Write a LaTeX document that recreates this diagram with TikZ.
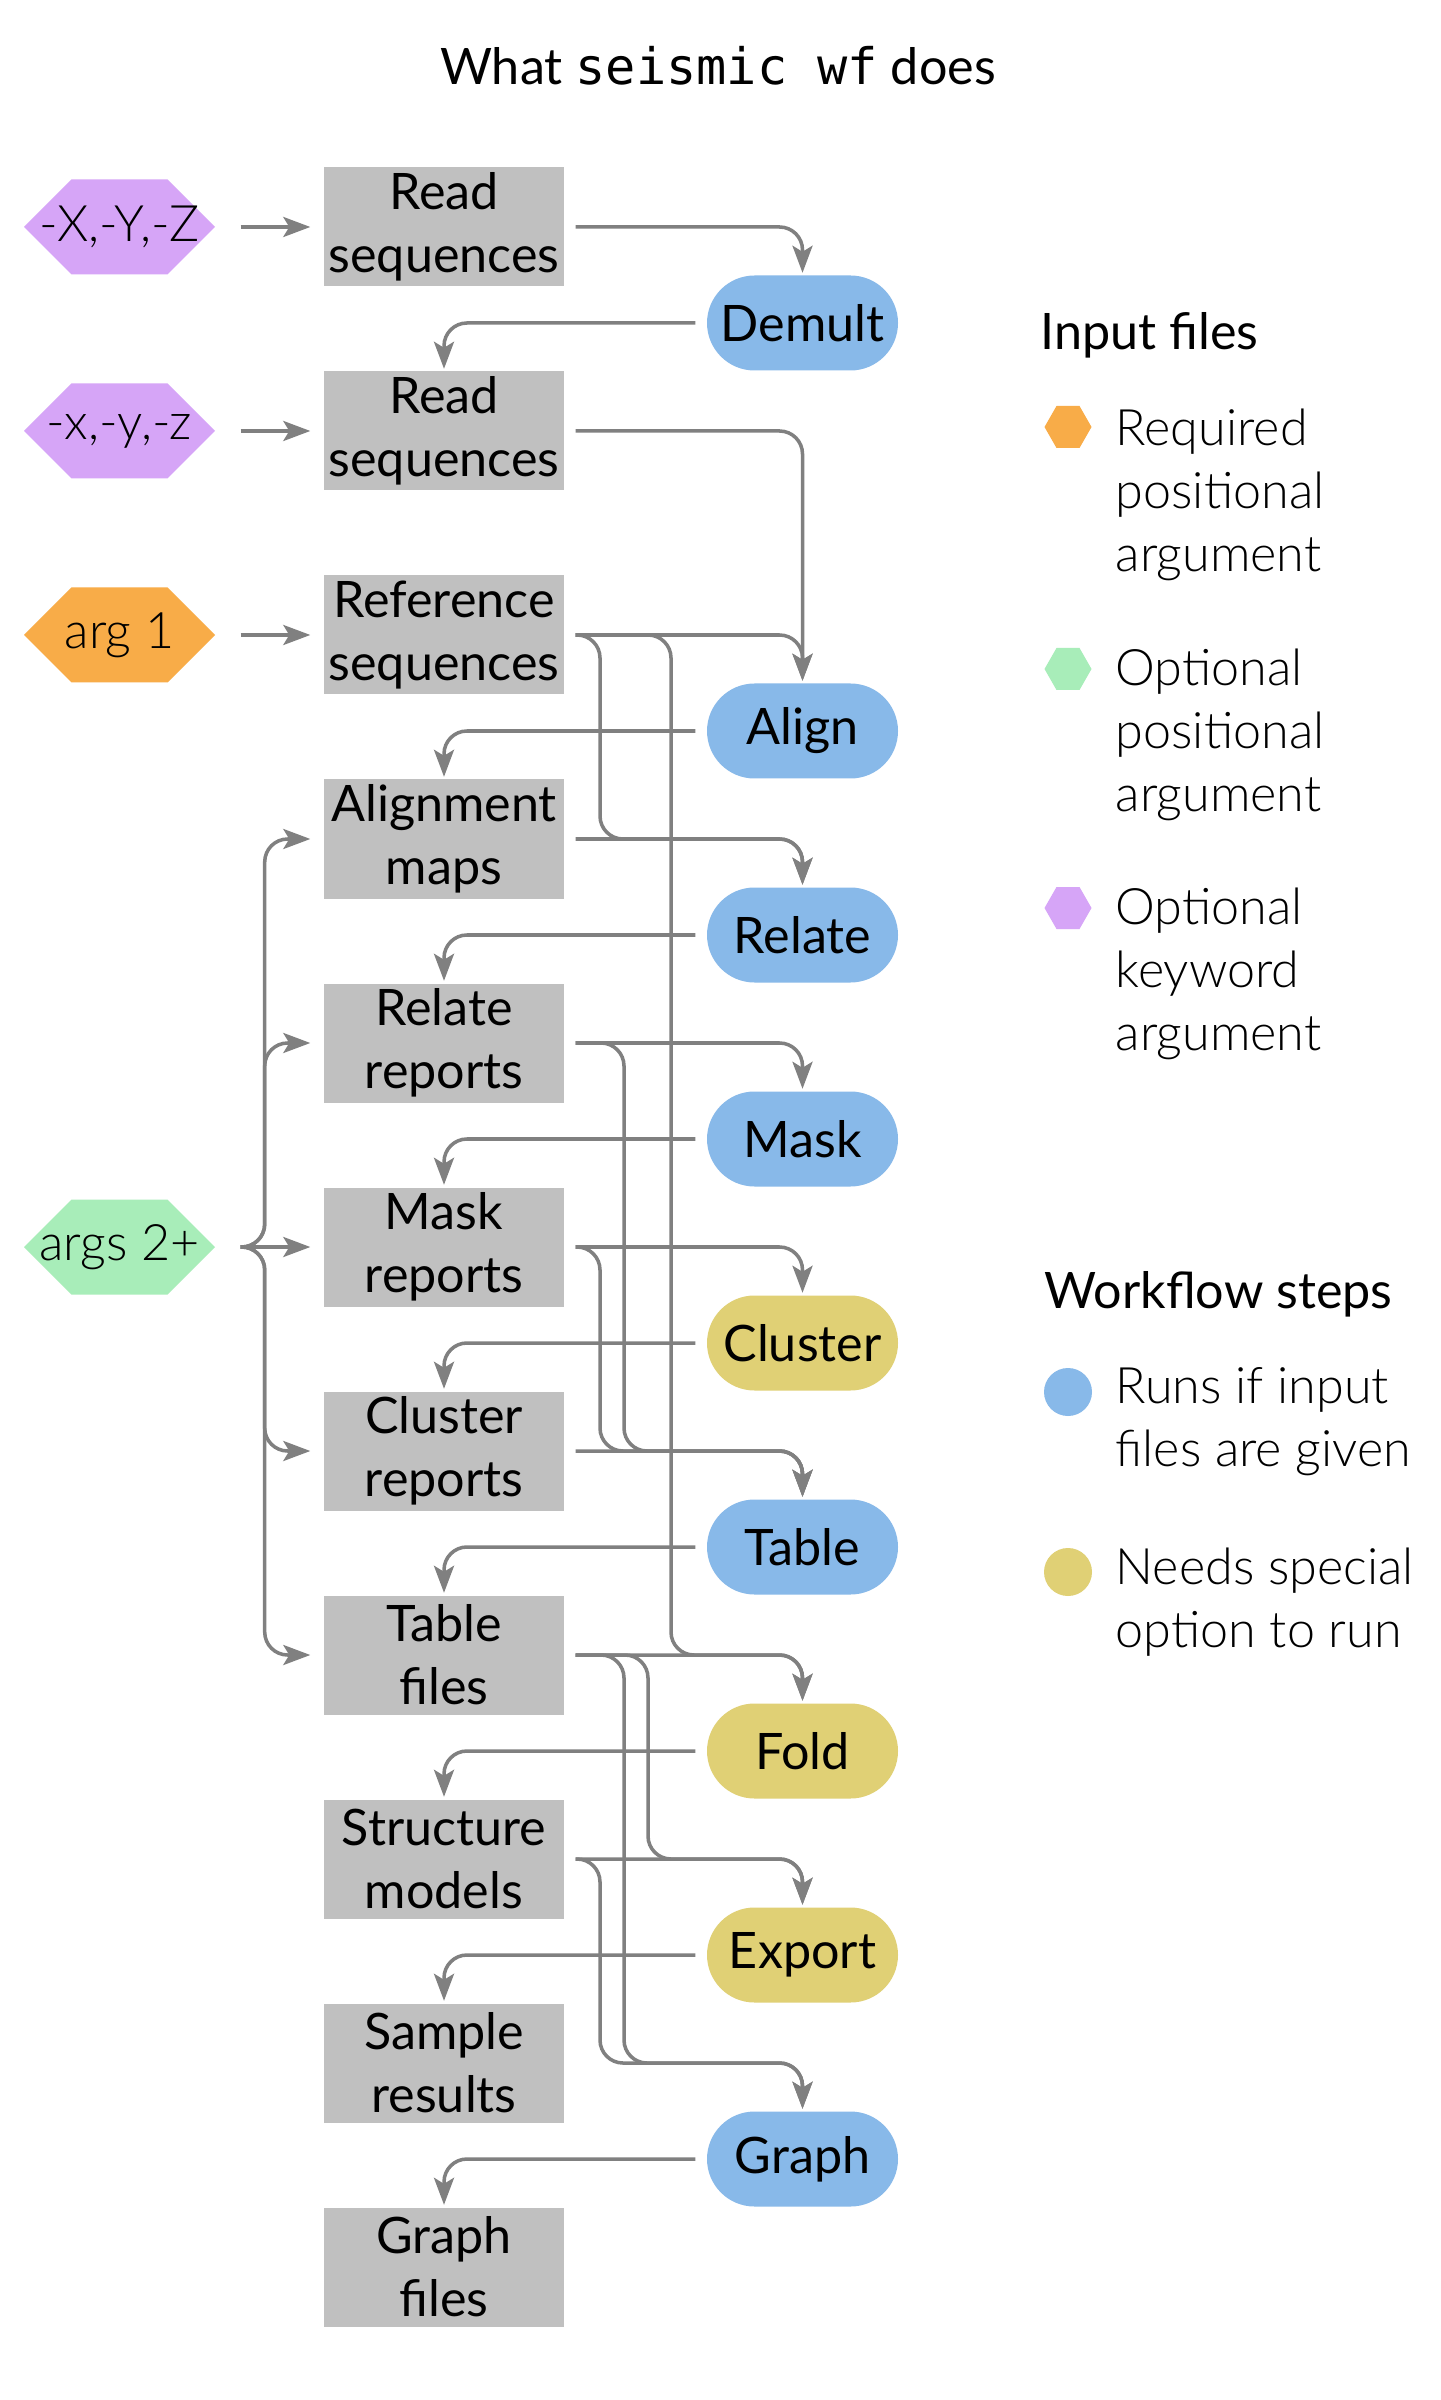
\documentclass[tikz,border=0pt]{standalone}
\usepackage{fontspec}
\setmainfont{Lato}
\newfontfamily\lightfont{Lato Light}
\newfontfamily\codefont{DejaVu Sans Mono}
\usetikzlibrary{arrows.meta}

\definecolor{boxgray}{HTML}{C0C0C0}
\definecolor{linegray}{HTML}{808080}
\definecolor{runblue}{HTML}{88B9E9}
\definecolor{optyellow}{HTML}{E0D075}
\definecolor{reqorange}{HTML}{F8AC48}
\definecolor{optgreen}{HTML}{A8EDB9}
\definecolor{kwpurple}{HTML}{D6A5F7}

\tikzset{
  txt/.style={font=\fontsize{14.3}{17.9}\selectfont},
  keytxt/.style={font=\lightfont\fontsize{14.3}{17.9}\selectfont, inner sep=0pt, align=left, anchor=west},
  filebox/.style={txt, fill=boxgray, minimum width=2.40cm, minimum height=1.19cm, inner sep=0pt, align=center},
  stepnode/.style={txt, fill=#1, rounded corners=0.475cm, minimum width=1.91cm, minimum height=0.95cm, inner sep=0pt},
  hexnode/.style={font=\lightfont\fontsize{14.3}{17.1}\selectfont, minimum width=1.91cm, minimum height=0.95cm, inner sep=0pt,
    path picture={\fill[#1] (path picture bounding box.west) -- ([xshift=4.75mm]path picture bounding box.north west)
      -- ([xshift=-4.75mm]path picture bounding box.north east) -- (path picture bounding box.east)
      -- ([xshift=-4.75mm]path picture bounding box.south east) -- ([xshift=4.75mm]path picture bounding box.south west) -- cycle;}},
  keyhex/.style={minimum width=0.47cm, minimum height=0.42cm, inner sep=0pt,
    path picture={\fill[#1] (path picture bounding box.west) -- ([xshift=1.2mm]path picture bounding box.north west)
      -- ([xshift=-1.2mm]path picture bounding box.north east) -- (path picture bounding box.east)
      -- ([xshift=-1.2mm]path picture bounding box.south east) -- ([xshift=1.2mm]path picture bounding box.south west) -- cycle;}},
  flow/.style={draw=linegray, line width=1pt, rounded corners=2.3mm,
    -{Stealth[length=2.7mm,width=2mm,inset=0.6mm]}, shorten <=1.1mm, shorten >=0.2mm},
}

\begin{document}
\begin{tikzpicture}
\path[fill=white] (0,0) rectangle (14.4,-24);

% Title
\node[txt, anchor=base] (title) at (7.18,-0.85) {What {\codefont seismic wf} does};

% Files
\node[filebox] (readX) at (4.44,-2.27) {Read\\sequences};
\node[filebox] (readx) at (4.44,-4.31) {Read\\sequences};
\node[filebox] (refs) at (4.44,-6.35) {Reference\\sequences};
\node[filebox] (maps) at (4.44,-8.39) {Alignment\\maps};
\node[filebox] (relrep) at (4.44,-10.43) {Relate\\reports};
\node[filebox] (maskrep) at (4.44,-12.47) {Mask\\reports};
\node[filebox] (clustrep) at (4.44,-14.51) {Cluster\\reports};
\node[filebox] (tabfiles) at (4.44,-16.55) {Table\\files};
\node[filebox] (models) at (4.44,-18.59) {Structure\\models};
\node[filebox] (samples) at (4.44,-20.63) {Sample\\results};
\node[filebox] (graphfiles) at (4.44,-22.67) {Graph\\files};

% Steps
\node[stepnode=runblue] (demult) at (8.025,-3.23) {Demult};
\node[stepnode=runblue] (align) at (8.025,-7.31) {Align};
\node[stepnode=runblue] (relate) at (8.025,-9.35) {Relate};
\node[stepnode=runblue] (mask) at (8.025,-11.39) {Mask};
\node[stepnode=optyellow] (cluster) at (8.025,-13.43) {Cluster};
\node[stepnode=runblue] (table) at (8.025,-15.47) {Table};
\node[stepnode=optyellow] (fold) at (8.025,-17.51) {Fold};
\node[stepnode=optyellow] (export) at (8.025,-19.55) {Export};
\node[stepnode=runblue] (graph) at (8.025,-21.59) {Graph};

% Arguments
\node[hexnode=kwpurple] (optX) at (1.195,-2.27) {-X,-Y,-Z};
\node[hexnode=kwpurple] (optx) at (1.195,-4.31) {-x,-y,-z};
\node[hexnode=reqorange] (arg1) at (1.195,-6.35) {arg 1};
\node[hexnode=optgreen] (args) at (1.195,-12.47) {args 2+};

\foreach \a/\b in {optX/readX, optx/readx, arg1/refs}
  \draw[flow, shorten <=2.5mm, shorten >=1.3mm] (\a.east) -- (\b.west);

\coordinate (fork) at ([xshift=2.5mm]args.east);
\draw[flow, shorten <=0mm, shorten >=1.3mm] (fork) -- (maskrep.west);
\foreach \b in {maps, relrep, clustrep, tabfiles}
  \draw[flow, shorten <=0mm, shorten >=1.3mm] (fork) -- ++(0.24,0) |- (\b.west);

% Columns for the long connectors
\coordinate (colA) at (6.00,0);
\coordinate (colB) at (6.24,0);
\coordinate (colC) at (6.48,0);
\coordinate (colD) at (6.71,0);

\foreach \f/\s in {readX/demult, readx/align, refs/align, maps/relate, relrep/mask,
                   maskrep/cluster, clustrep/table, tabfiles/fold, models/export}
  \draw[flow] (\f.east) -| (\s.north);

\foreach \s/\f in {demult/readx, align/maps, relate/relrep, mask/maskrep, cluster/clustrep,
                   table/tabfiles, fold/models, export/samples, graph/graphfiles}
  \draw[flow] (\s.west) -| (\f.north);

\foreach \f/\r/\s/\c in {refs/maps/relate/colA, refs/tabfiles/fold/colD, relrep/clustrep/table/colB,
                         maskrep/clustrep/table/colA, tabfiles/models/export/colC,
                         tabfiles/samples/graph/colB, models/samples/graph/colA}
  \draw[flow] (\f.east) -| (\c |- \r.east) -| (\s.north);

% Legend
\node[txt, anchor=base west, inner sep=0pt] (inhead) at (10.40,-3.50) {Input files};
\node[keyhex=reqorange] (keyreq) at (10.68,-4.27) {};
\node[keytxt] (txtreq) at (11.15,-4.95) {Required\\positional\\argument};
\node[keyhex=optgreen] (keyopt) at (10.68,-6.69) {};
\node[keytxt] (txtopt) at (11.15,-7.35) {Optional\\positional\\argument};
\node[keyhex=kwpurple] (keykw) at (10.68,-9.08) {};
\node[keytxt] (txtkw) at (11.15,-9.74) {Optional\\keyword\\argument};

\node[txt, anchor=base west, inner sep=0pt] (stephead) at (10.44,-13.08) {Workflow steps};
\node[circle, fill=runblue, minimum size=0.48cm, inner sep=0pt] (keyrun) at (10.68,-13.92) {};
\node[keytxt] (txtrun) at (11.15,-14.22) {Runs if input\\files are given};
\node[circle, fill=optyellow, minimum size=0.48cm, inner sep=0pt] (keyspec) at (10.68,-15.72) {};
\node[keytxt] (txtspec) at (11.15,-16.02) {Needs special\\option to run};
\end{tikzpicture}
\end{document}
